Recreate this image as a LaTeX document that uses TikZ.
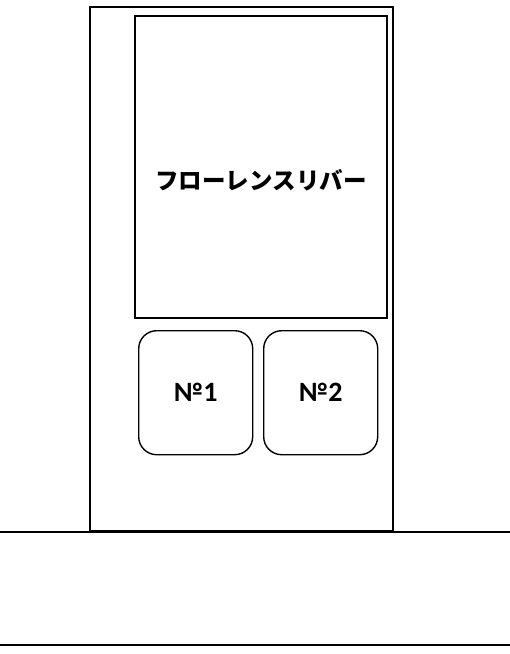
\documentclass[tikz,border=0pt]{standalone}
\usepackage{fontspec}
\setmainfont{Carlito}
\newfontfamily\jpfont{Noto Sans CJK JP}
\usetikzlibrary{positioning}

\tikzset{
    frame/.style={draw, line width=2pt, inner sep=0pt, anchor=north west},
    knob/.style={draw, line width=1.4pt, rounded corners=18pt, inner sep=0pt,
        anchor=north west, minimum width=114pt, minimum height=124pt,
        font=\bfseries\fontsize{28}{28}\selectfont},
}

\begin{document}
\begin{tikzpicture}[x=1pt, y=-1pt]
    \useasboundingbox (0,0) rectangle (510,654);

    % stand and screen
    \node[frame, minimum width=303pt, minimum height=524pt] (stand) at (89,6) {};
    \node[frame, minimum width=252pt, minimum height=302pt] (screen) at (134,15) {};
    \node[font=\jpfont\bfseries\fontsize{23.5}{23.5}\selectfont, below=-1pt of screen.center] (title) {フローレンスリバー};

    % buttons
    \node[knob] (btn1) at (138,330) {№1};
    \node[knob] (btn2) at (263,330) {№2};

    % floor
    \coordinate (floorL) at (0,532);
    \coordinate (floorR) at (510,532);
    \coordinate (baseL) at (0,645);
    \coordinate (baseR) at (510,645);
    \draw[line width=2pt] (floorL) -- (floorR);
    \draw[line width=2pt] (baseL) -- (baseR);
\end{tikzpicture}
\end{document}
